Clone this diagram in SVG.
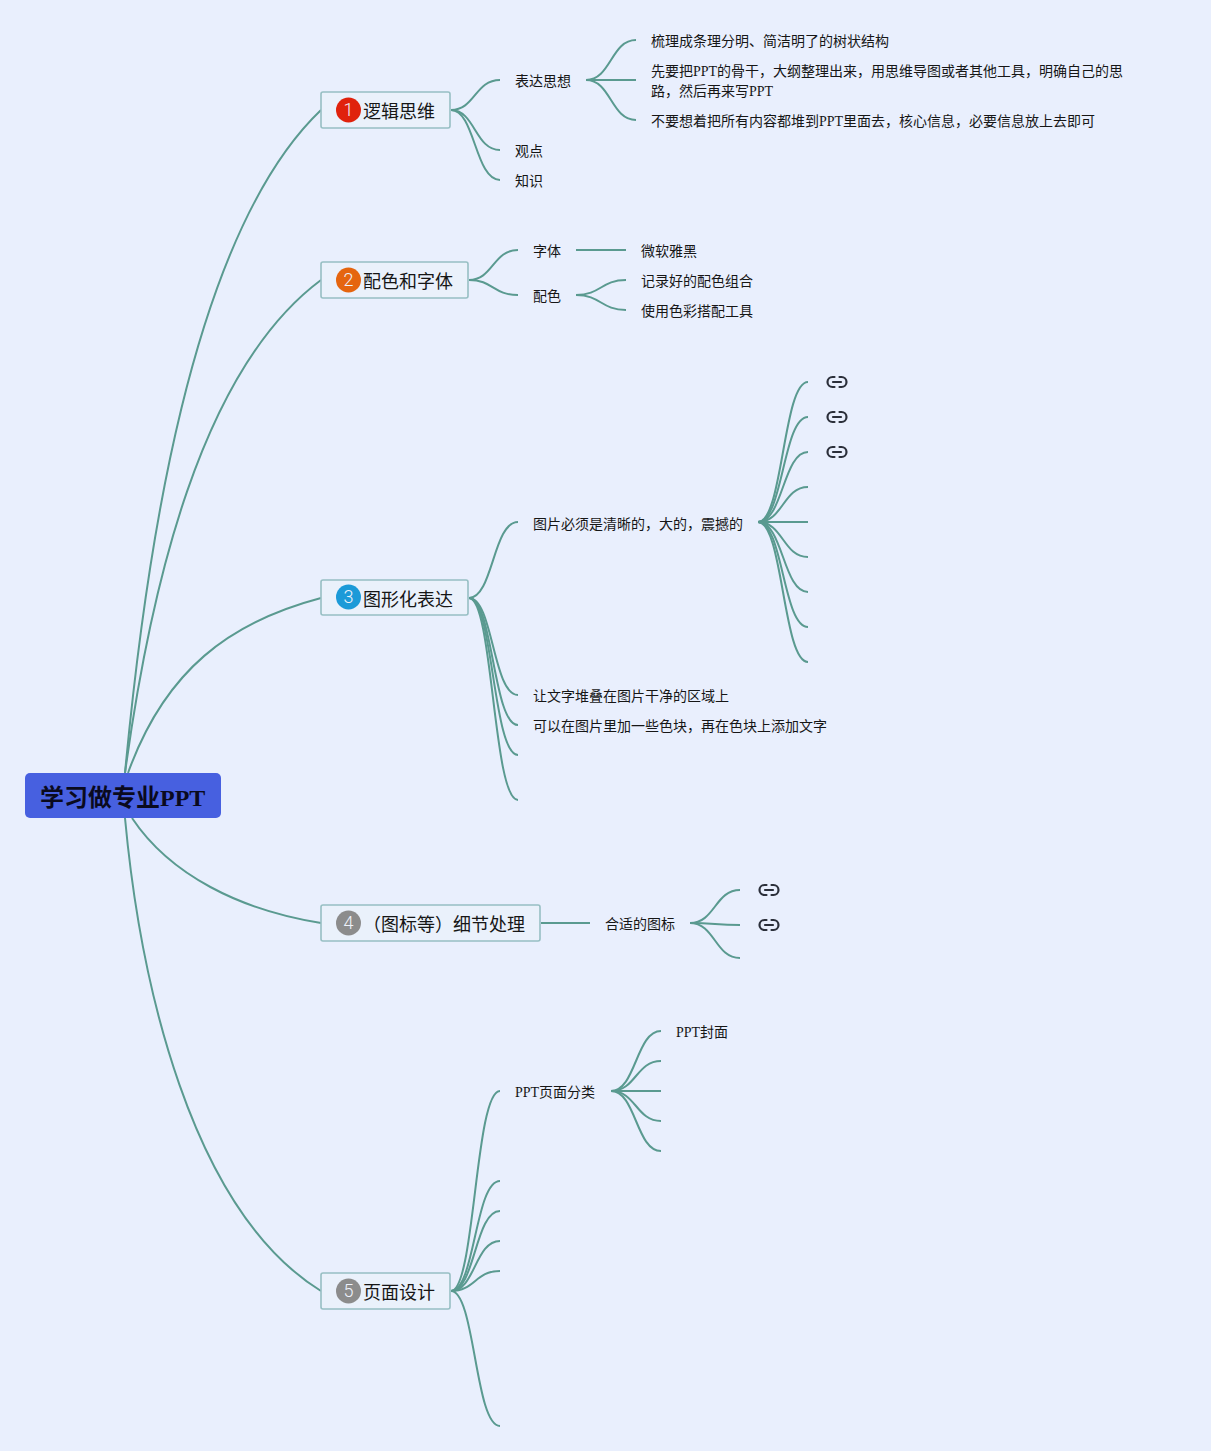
<svg xmlns="http://www.w3.org/2000/svg" width="1211" height="1451" viewBox="0 0 1211 1451">
<style>
text{font-family:"Liberation Serif","Noto Sans CJK SC",serif;fill:#161616}
.t{font-size:14px}
.m{font-size:18px}
.b{font-family:Roboto,"Liberation Sans",sans-serif;font-weight:300;font-size:18px;fill:#eef2fb;text-anchor:middle}
.n{fill:#eaf1fb;stroke:#97bfc3;stroke-width:1.600}
#connectors path{fill:none;stroke:#5a9a90;stroke-width:2}
.l{fill:none;stroke:#2b2f3a;stroke-width:2.200;stroke-linecap:round}
</style>
<defs>
<g id="link"><path class="l" d="M-2.500 -5H-4.500A5 5 0 0 0 -4.500 5H-2.500M2.500 -5H4.500A5 5 0 0 1 4.500 5H2.500M-4 0H4"/></g>
</defs>
<rect width="1211" height="1451" fill="#e9effd"/>
<g id="connectors">
<path d="M125 773C145 560 190 235 321 110"/>
<path d="M125 773C150 590 200 370 321 280"/>
<path d="M128 773C165 670 230 622 321 598"/>
<path d="M132 818C170 875 240 910 321 923"/>
<path d="M125 818C140 980 190 1210 321 1291"/>
<path d="M451 110C475 110 475 80 500 80"/>
<path d="M451 110C475 110 475 150 500 150"/>
<path d="M451 110C475 110 475 180 500 180"/>
<path d="M586 80C611 80 611 40 636 40"/>
<path d="M586 80H636"/>
<path d="M586 80C611 80 611 120 636 120"/>
<path d="M469 280C493 280 493 250 518 250"/>
<path d="M469 280C493 280 493 295 518 295"/>
<path d="M576 250H626"/>
<path d="M576 295C601 295 601 280 626 280"/>
<path d="M576 295C601 295 601 310 626 310"/>
<path d="M469 598C493 598 493 522 518 522"/>
<path d="M469 598C493 598 493 695 518 695"/>
<path d="M469 598C493 598 493 725 518 725"/>
<path d="M469 598C493 598 493 755 518 755"/>
<path d="M469 598C493 598 493 800 518 800"/>
<path d="M758 522C783 522 783 382 808 382"/>
<path d="M758 522C783 522 783 417 808 417"/>
<path d="M758 522C783 522 783 452 808 452"/>
<path d="M758 522C783 522 783 487 808 487"/>
<path d="M758 522H808"/>
<path d="M758 522C783 522 783 557 808 557"/>
<path d="M758 522C783 522 783 592 808 592"/>
<path d="M758 522C783 522 783 627 808 627"/>
<path d="M758 522C783 522 783 662 808 662"/>
<path d="M541 923H590"/>
<path d="M690 923C715 923 715 890 740 890"/>
<path d="M690 923C715 923 715 925 740 925"/>
<path d="M690 923C715 923 715 958 740 958"/>
<path d="M451 1291C475 1291 475 1091 500 1091"/>
<path d="M451 1291C475 1291 475 1181 500 1181"/>
<path d="M451 1291C475 1291 475 1211 500 1211"/>
<path d="M451 1291C475 1291 475 1241 500 1241"/>
<path d="M451 1291C475 1291 475 1271 500 1271"/>
<path d="M451 1291C475 1291 475 1426 500 1426"/>
<path d="M611 1091C636 1091 636 1031 661 1031"/>
<path d="M611 1091C636 1091 636 1061 661 1061"/>
<path d="M611 1091H661"/>
<path d="M611 1091C636 1091 636 1121 661 1121"/>
<path d="M611 1091C636 1091 636 1151 661 1151"/>
</g>
<g id="root"><rect x="25" y="773" width="196" height="45" rx="5" fill="#4760e0"/><text x="40" y="806" font-size="24" font-weight="700" style="fill:#0a0a1e">学习做专业PPT</text></g>
<g id="n1"><rect class="n" x="321" y="92" width="129" height="36" rx="2"/><circle cx="348.500" cy="110" r="12.500" fill="#e0220c"/><text class="b" x="348.500" y="116">1</text><text class="m" x="363" y="118">逻辑思维</text></g>
<g id="n1a"><text class="t" x="515" y="86">表达思想</text></g>
<g id="n1a1"><text class="t" x="651" y="46">梳理成条理分明、简洁明了的树状结构</text></g>
<g id="n1a2"><text class="t" x="651" y="76">先要把PPT的骨干，大纲整理出来，用思维导图或者其他工具，明确自己的思</text><text class="t" x="651" y="96">路，然后再来写PPT</text></g>
<g id="n1a3"><text class="t" x="651" y="126">不要想着把所有内容都堆到PPT里面去，核心信息，必要信息放上去即可</text></g>
<g id="n1b"><text class="t" x="515" y="156">观点</text></g>
<g id="n1c"><text class="t" x="515" y="186">知识</text></g>
<g id="n2"><rect class="n" x="321" y="262" width="147" height="36" rx="2"/><circle cx="348.500" cy="280" r="12.500" fill="#e5650f"/><text class="b" x="348.500" y="286">2</text><text class="m" x="363" y="288">配色和字体</text></g>
<g id="n2a"><text class="t" x="533" y="256">字体</text></g>
<g id="n2a1"><text class="t" x="641" y="256">微软雅黑</text></g>
<g id="n2b"><text class="t" x="533" y="301">配色</text></g>
<g id="n2b1"><text class="t" x="641" y="286">记录好的配色组合</text></g>
<g id="n2b2"><text class="t" x="641" y="316">使用色彩搭配工具</text></g>
<g id="n3"><rect class="n" x="321" y="580" width="147" height="35" rx="2"/><circle cx="348.500" cy="597" r="12.500" fill="#1c9ad8"/><text class="b" x="348.500" y="603">3</text><text class="m" x="363" y="606">图形化表达</text></g>
<g id="n3a"><text class="t" x="533" y="529">图片必须是清晰的，大的，震撼的</text></g>
<use href="#link" x="837" y="382"/>
<use href="#link" x="837" y="417"/>
<use href="#link" x="837" y="452"/>
<g id="n3b"><text class="t" x="533" y="701">让文字堆叠在图片干净的区域上</text></g>
<g id="n3c"><text class="t" x="533" y="731">可以在图片里加一些色块，再在色块上添加文字</text></g>
<g id="n4"><rect class="n" x="321" y="905" width="219" height="36" rx="2"/><circle cx="348.500" cy="923" r="12.500" fill="#8c8c8c"/><text class="b" x="348.500" y="929">4</text><text class="m" x="363" y="931">（图标等）细节处理</text></g>
<g id="n4a"><text class="t" x="605" y="929">合适的图标</text></g>
<use href="#link" x="769" y="890"/>
<use href="#link" x="769" y="925"/>
<g id="n5"><rect class="n" x="321" y="1273" width="129" height="36" rx="2"/><circle cx="348.500" cy="1291" r="12.500" fill="#8c8c8c"/><text class="b" x="348.500" y="1297">5</text><text class="m" x="363" y="1299">页面设计</text></g>
<g id="n5a"><text class="t" x="515" y="1097">PPT页面分类</text></g>
<g id="n5a1"><text class="t" x="676" y="1037">PPT封面</text></g>
</svg>
